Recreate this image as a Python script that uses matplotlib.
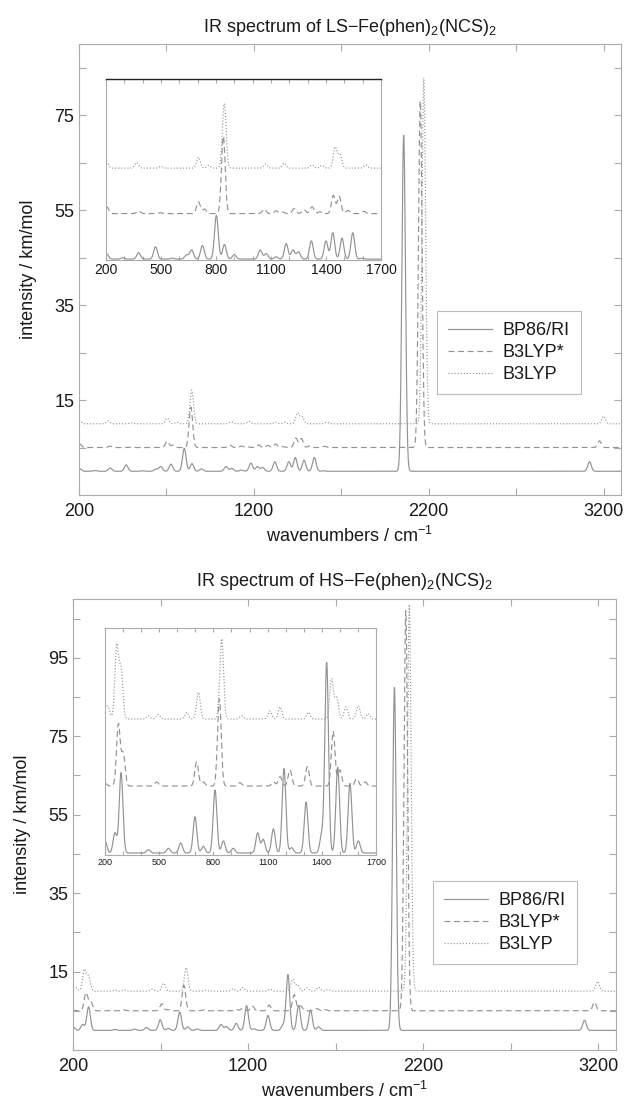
import numpy as np
import matplotlib
matplotlib.use("Agg")
import matplotlib.pyplot as plt

plt.rcParams['font.family'] = ['Liberation Sans', 'DejaVu Sans']
plt.rcParams['mathtext.default'] = 'regular'
plt.rcParams['lines.scale_dashes'] = False

# peak lists (cm-1, km/mol)
methods = ["BP86/RI", "B3LYP*", "B3LYP"]
offsets = [0, 5, 10]

# low spin
ls_bp86_pos = [204, 291, 378, 470, 563, 639, 667, 726, 802, 846, 900, 1041, 1074, 1128,
               1183, 1220, 1250, 1320, 1400, 1437, 1487, 1546, 1596, 2057, 3120]
ls_bp86_int = [0.55, 0.15, 0.7, 1.35, 0.1, 0.45, 1.0, 1.5, 4.8, 1.6, 0.5, 1.0, 0.6, 0.25,
               1.7, 1.0, 0.8, 2.0, 2.0, 2.9, 2.3, 2.9, 0.1, 70.8, 2.0]
ls_b3s_pos = [204, 378, 498, 704, 737, 840, 1063, 1128, 1161, 1226, 1280, 1324, 1367,
              1440, 1472, 1520, 1606, 2152, 3177]
ls_b3s_int = [0.75, 0.3, 0.1, 1.3, 0.5, 8.5, 0.5, 0.3, 0.2, 0.55, 0.45, 0.75, 0.2,
              2.0, 1.9, 0.35, 0.25, 73.0, 1.4]
ls_b3_pos = [204, 367, 498, 704, 759, 845, 1070, 1172, 1324, 1378, 1450, 1476, 1617, 2172, 3200]
ls_b3_int = [0.65, 0.6, 0.2, 1.2, 0.3, 7.1, 0.45, 0.55, 0.35, 0.3, 2.3, 1.5, 0.35, 72.8, 1.6]

# high spin
hs_bp86_pos = [200, 255, 289, 440, 551, 619, 698, 744, 809, 855, 910, 1045, 1076, 1132,
               1191, 1233, 1313, 1399, 1427, 1488, 1556, 1602, 2035, 3120]
hs_bp86_int = [0.9, 1.5, 6.0, 0.25, 0.35, 0.75, 2.7, 0.5, 4.7, 0.9, 0.35, 1.5, 1.0, 1.8,
               6.3, 0.4, 3.8, 1.3, 14.2, 6.4, 5.2, 0.9, 87.4, 2.6]
hs_b3s_pos = [200, 274, 301, 486, 707, 744, 833, 947, 1132, 1169, 1224, 1320, 1463, 1500,
              1593, 1640, 2100, 3177]
hs_b3s_int = [0.2, 4.6, 2.4, 0.3, 1.8, 0.3, 6.5, 0.25, 0.3, 0.7, 1.2, 1.45, 4.1, 1.2,
              0.55, 0.3, 102.0, 2.2]
hs_b3_pos = [200, 218, 265, 289, 440, 495, 652, 717, 846, 956, 1113, 1169, 1325, 1454,
             1482, 1534, 1602, 1657, 2120, 3195]
hs_b3_int = [0.6, 0.8, 5.4, 3.6, 0.25, 0.35, 0.5, 2.0, 6.0, 0.25, 0.6, 0.9, 0.5, 3.0,
             1.6, 0.9, 1.0, 0.4, 98.6, 2.5]

fwhm = 24.0
grey = '#939393'
spine_grey = '#ababab'
text_col = '#1a1a1a'
styles = ['-', (0, (4.3, 2.6)), (0, (0.8, 1.4))]


def spectrum(x, pos, inten):
    s = np.sqrt(np.log(2)) * 2 / fwhm
    y = np.zeros_like(x)
    for p, h in zip(pos, inten):
        y += h * np.exp(-((x - p) * s) ** 2)
    return y


def style_axes(ax):
    for sp in ax.spines.values():
        sp.set_color(spine_grey)
        sp.set_linewidth(0.8)
    ax.tick_params(direction='in', top=True, right=True, color=spine_grey,
                   labelcolor=text_col)


def panel(fig, rect, inset_rect, leg_xy, title, data, ymax, yticks, ylabels,
          inset_ylim, inset_fs, black_top=False):
    x = np.arange(200, 3301, 1.0)
    ax = fig.add_axes(rect)
    ins = fig.add_axes(inset_rect)
    handles = []
    for (pos, inten), off, ls, name in zip(data, offsets, styles, methods):
        y = off + spectrum(x, pos, inten)
        h, = ax.plot(x, y, color=grey, lw=0.85, linestyle=ls, label=name)
        handles.append(h)
        m = x <= 1700
        ins.plot(x[m], y[m], color=grey, lw=0.85, linestyle=ls)
    ax.set_xlim(200, 3300)
    ax.set_ylim(-5, ymax)
    ax.set_xticks(np.arange(200, 3300, 500))
    ax.set_xticklabels(['200', '', '1200', '', '2200', '', '3200'])
    ax.set_yticks(yticks)
    ax.set_yticklabels(ylabels)
    style_axes(ax)
    ax.tick_params(labelsize=13, length=5)
    ax.tick_params(axis='x', pad=6)
    ax.set_title(title, fontsize=13, pad=9, color=text_col)
    ax.set_xlabel('wavenumbers / cm$^{-1}$', fontsize=13, labelpad=4, color=text_col)
    ax.set_ylabel('intensity / km/mol', fontsize=13, labelpad=12, color=text_col)

    ins.set_xlim(200, 1700)
    ins.set_ylim(*inset_ylim)
    ins.set_xticks(np.arange(200, 1701, 100))
    ins.set_xticklabels([str(v) if (v - 200) % 300 == 0 else '' for v in range(200, 1701, 100)])
    ins.set_yticks([])
    style_axes(ins)
    ins.tick_params(labelsize=inset_fs, length=3, pad=2)
    if black_top:
        ins.spines['top'].set_color('#222222')
        ins.spines['top'].set_linewidth(1.0)

    leg = ax.legend(handles=handles, loc='upper left', bbox_to_anchor=leg_xy,
                    bbox_transform=fig.transFigure, fontsize=13, frameon=True,
                    fancybox=False, handlelength=2.45, handletextpad=0.6,
                    labelspacing=0.28, borderpad=0.6, borderaxespad=0)
    leg.get_frame().set_edgecolor(spine_grey)
    leg.get_frame().set_linewidth(0.8)
    for t in leg.get_texts():
        t.set_color(text_col)


fig = plt.figure(figsize=(6.27, 11.01), dpi=100)

W, H = 627.0, 1101.0


def frac(l, r, t, b):
    return [l / W, 1 - b / H, (r - l) / W, (b - t) / H]


ls_data = [(ls_bp86_pos, ls_bp86_int), (ls_b3s_pos, ls_b3s_int), (ls_b3_pos, ls_b3_int)]
hs_data = [(hs_bp86_pos, hs_bp86_int), (hs_b3s_pos, hs_b3s_int), (hs_b3_pos, hs_b3_int)]

panel(fig, frac(79, 621, 44, 495), frac(106, 381, 79, 260), (437 / W, 1 - 311 / H),
      'IR spectrum of LS$-$Fe(phen)$_2$(NCS)$_2$', ls_data, 90,
      np.arange(5, 90, 10), ['' if v % 20 != 15 else str(v) for v in range(5, 90, 10)],
      (-0.1, 19.8), 10, black_top=True)

panel(fig, frac(73, 616, 599, 1050), frac(105, 376, 628, 855), (433 / W, 1 - 881 / H),
      'IR spectrum of HS$-$Fe(phen)$_2$(NCS)$_2$', hs_data, 110,
      np.arange(5, 110, 10), ['' if v % 20 != 15 else str(v) for v in range(5, 110, 10)],
      (-0.15, 16.8), 6.5)

fig.savefig('out.png', dpi=100)
